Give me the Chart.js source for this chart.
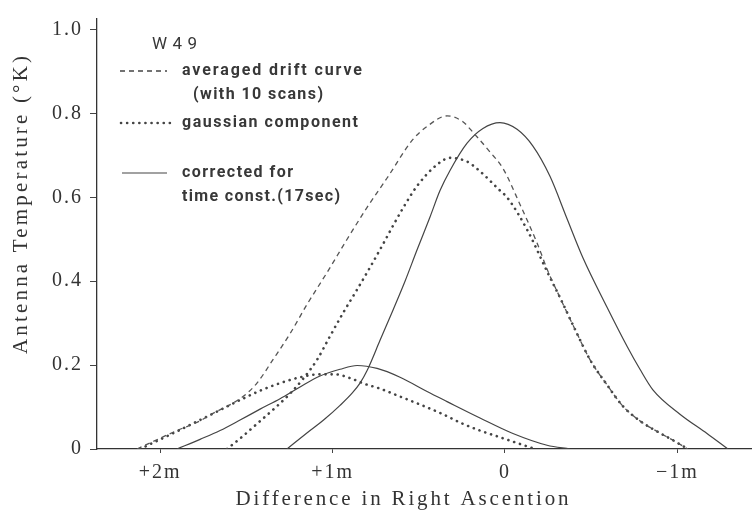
<!DOCTYPE html>
<html><head><meta charset="utf-8">
<script src="https://cdn.jsdelivr.net/npm/chart.js@4.4.1/dist/chart.umd.min.js"></script>
<style>html,body{margin:0;padding:0;background:#fff;}#wrap{width:752px;height:516px;}</style>
</head><body><div id="wrap"><canvas id="c" width="752" height="516"></canvas></div>
<script>
// ---- data (x: difference in right ascension, minutes; y: antenna temperature, K)
const X_TICKS = [2, 1, 0, -1];
const X_TICK_LABELS = ['+2m', '+1m', '0', '\u22121m'];
const Y_TICKS = [0, 0.2, 0.4, 0.6, 0.8, 1.0];
const Y_TICK_LABELS = ['0', '0.2', '0.4', '0.6', '0.8', '1.0'];

const driftM = [2.135,1.903,1.769,1.711,1.520,1.439,1.346,1.247,1.148,1.032,0.916,0.800,0.684,0.534,0.452,0.336,0.244,0.186,0.087,0.012,-0.087,-0.186,-0.249,-0.319,-0.418,-0.493,-0.592,-0.684,-0.783,-0.882,-0.974,-1.061];
const driftT = [0,0.044,0.067,0.081,0.125,0.157,0.213,0.275,0.345,0.421,0.500,0.576,0.646,0.738,0.769,0.794,0.780,0.755,0.708,0.669,0.583,0.491,0.424,0.361,0.275,0.213,0.153,0.102,0.067,0.042,0.021,0];

const gaussBigM = [1.613,1.537,1.439,1.323,1.247,1.172,1.090,1.015,0.940,0.858,0.783,0.708,0.650,0.592,0.510,0.394,0.319,0.220,0.145,0.029,-0.012,-0.128,-0.249,-0.319,-0.418,-0.493,-0.592,-0.684,-0.783,-0.882,-0.974,-1.061];
const gaussBigT = [0,0.025,0.060,0.102,0.132,0.167,0.213,0.269,0.324,0.380,0.433,0.488,0.532,0.574,0.627,0.678,0.694,0.685,0.662,0.616,0.600,0.523,0.419,0.361,0.275,0.213,0.153,0.102,0.067,0.042,0.021,0];

const gaussSmallM = [2.117,1.903,1.711,1.520,1.421,1.305,1.189,1.073,0.986,0.899,0.812,0.725,0.609,0.493,0.377,0.244,0.145,0.029,-0.087,-0.174];
const gaussSmallT = [0,0.042,0.081,0.120,0.139,0.157,0.171,0.178,0.178,0.169,0.155,0.144,0.125,0.106,0.086,0.060,0.044,0.028,0.012,0];

const corrBigM = [1.265,1.131,1.044,0.957,0.887,0.841,0.800,0.725,0.650,0.580,0.510,0.435,0.377,0.319,0.220,0.128,0.029,-0.070,-0.162,-0.261,-0.360,-0.452,-0.592,-0.708,-0.783,-0.858,-1.015,-1.172,-1.293];
const corrBigT = [0,0.044,0.072,0.104,0.133,0.157,0.187,0.259,0.331,0.400,0.475,0.553,0.616,0.664,0.729,0.764,0.778,0.762,0.722,0.650,0.549,0.456,0.338,0.245,0.190,0.141,0.083,0.037,0];

const corrSmallM = [1.903,1.769,1.653,1.537,1.421,1.305,1.189,1.073,0.957,0.858,0.742,0.609,0.452,0.336,0.145,-0.046,-0.244,-0.377];
const corrSmallT = [0,0.023,0.044,0.069,0.095,0.120,0.148,0.174,0.190,0.199,0.192,0.171,0.137,0.113,0.074,0.037,0.009,0];

const X_MIN = -1.433, X_MAX = 2.367;
const Y_MIN = 0, Y_MAX = 1.025;

function pts(xs, ys) { return xs.map((x, i) => ({x: x, y: ys[i]})); }

const INK = '#444';
const SERIF = '"Liberation Serif", "Times New Roman", serif';
const SANS = 'Roboto, "Open Sans", "DejaVu Sans", sans-serif';
const hasLS = 'letterSpacing' in CanvasRenderingContext2D.prototype;

function spacedText(ctx, text, x, y, target, align) {
  if (hasLS) ctx.letterSpacing = '0px';
  const w = ctx.measureText(text).width;
  const n = text.length;
  let sp = (hasLS && n > 1) ? (target - w) / (n - 1) : 0;
  if (hasLS) ctx.letterSpacing = sp + 'px';
  const total = hasLS ? w + sp * (n - 1) : w;
  ctx.textAlign = 'left';
  const x0 = align === 'center' ? x - total / 2 : x;
  ctx.fillText(text, x0, y);
  if (hasLS) ctx.letterSpacing = '0px';
}

const decor = {
  id: 'decor',
  beforeDraw(chart) { if (hasLS) chart.ctx.letterSpacing = '2px'; },
  afterDraw(chart) {
    const ctx = chart.ctx;
    ctx.save();
    if (hasLS) ctx.letterSpacing = '0px';
    ctx.fillStyle = '#333';
    ctx.textBaseline = 'middle';
    // axis titles
    ctx.font = '21px ' + SERIF;
    spacedText(ctx, 'Difference in Right Ascention', 402, 499, 333, 'center');
    ctx.save();
    ctx.translate(21, 205);
    ctx.rotate(-Math.PI / 2);
    spacedText(ctx, 'Antenna Temperature (\u00B0K)', 0, 0, 298, 'center');
    ctx.restore();

    // legend
    ctx.strokeStyle = INK;
    ctx.fillStyle = '#383838';
    ctx.font = '400 17px ' + SANS;
    spacedText(ctx, 'W49', 152, 45, 45, 'left');
    ctx.font = '700 16px ' + SANS;
    // dashed sample
    ctx.lineWidth = 1.3; ctx.setLineDash([5, 4]); ctx.lineCap = 'butt';
    ctx.beginPath(); ctx.moveTo(120, 71); ctx.lineTo(167, 71); ctx.stroke();
    spacedText(ctx, 'averaged drift curve', 182, 71, 180, 'left');
    spacedText(ctx, '(with 10 scans)', 193, 95, 130, 'left');
    // dotted sample
    ctx.lineWidth = 2.6; ctx.setLineDash([0.1, 6]); ctx.lineCap = 'round';
    ctx.beginPath(); ctx.moveTo(121, 123); ctx.lineTo(170, 123); ctx.stroke();
    spacedText(ctx, 'gaussian component', 182, 123, 176, 'left');
    // solid sample
    ctx.lineWidth = 1.2; ctx.setLineDash([]); ctx.lineCap = 'butt';
    ctx.beginPath(); ctx.moveTo(122, 173); ctx.lineTo(167, 173); ctx.stroke();
    spacedText(ctx, 'corrected for', 182, 173, 111, 'left');
    spacedText(ctx, 'time const.(17sec)', 182, 197, 158, 'left');
    ctx.restore();
  }
};

const dotted = {borderColor: INK, borderWidth: 2.6, borderDash: [0.1, 6], borderCapStyle: 'round'};
const base = {pointRadius: 0, fill: false, cubicInterpolationMode: 'monotone'};

new Chart(document.getElementById('c'), {
  type: 'line',
  data: {
    datasets: [
      Object.assign({label: 'averaged drift curve', data: pts(driftM, driftT), borderColor: '#555', borderWidth: 1.3, borderDash: [5, 4]}, base),
      Object.assign({label: 'gaussian component', data: pts(gaussBigM, gaussBigT)}, dotted, base),
      Object.assign({label: 'gaussian component (small)', data: pts(gaussSmallM, gaussSmallT)}, dotted, base),
      Object.assign({label: 'corrected for time const.', data: pts(corrBigM, corrBigT), borderColor: INK, borderWidth: 1.2}, base),
      Object.assign({label: 'corrected (small)', data: pts(corrSmallM, corrSmallT), borderColor: INK, borderWidth: 1.2}, base)
    ]
  },
  options: {
    responsive: false, animation: false, devicePixelRatio: 1,
    layout: {padding: {left: 0, right: 0, top: 6, bottom: 0}},
    plugins: {legend: {display: false}, title: {display: false}, tooltip: {enabled: false}},
    scales: {
      x: {
        type: 'linear', reverse: true, min: X_MIN, max: X_MAX,
        afterBuildTicks: s => { s.ticks = X_TICKS.map(v => ({value: v})); },
        afterFit: s => { s.height = 67; },
        ticks: {
          autoSkip: false, maxRotation: 0, padding: 8, color: '#333',
          font: {family: SERIF, size: 20},
          callback: (v) => { const i = X_TICKS.indexOf(v); return i >= 0 ? X_TICK_LABELS[i] : ''; }
        },
        grid: {drawOnChartArea: false, drawTicks: true, tickLength: 4, color: '#444', lineWidth: 1},
        border: {display: true, color: '#333', width: 1.3},
        title: {display: false}
      },
      y: {
        type: 'linear', min: Y_MIN, max: Y_MAX,
        afterBuildTicks: s => { s.ticks = Y_TICKS.map(v => ({value: v})); },
        afterFit: s => { s.width = 97; },
        ticks: {
          padding: 7, color: '#333',
          font: {family: SERIF, size: 20},
          callback: (v) => { const i = Y_TICKS.findIndex(t => Math.abs(t - v) < 1e-9); return i >= 0 ? Y_TICK_LABELS[i] : ''; }
        },
        grid: {drawOnChartArea: false, drawTicks: true, tickLength: 7, color: '#444', lineWidth: 1},
        border: {display: true, color: '#333', width: 1.3},
        title: {display: false}
      }
    }
  },
  plugins: [decor]
});
</script>
</body></html>
